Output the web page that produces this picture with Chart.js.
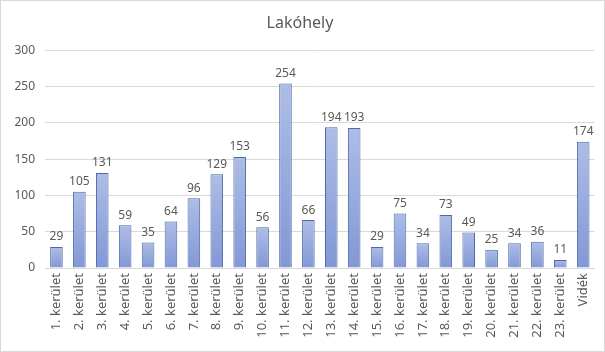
<!DOCTYPE html>
<html>
<head>
<meta charset="utf-8">
<script src="https://cdn.jsdelivr.net/npm/chart.js@4/dist/chart.umd.min.js"></script>
<style>
  html, body { margin: 0; padding: 0; background: #fff; }
  #wrap { position: relative; width: 603px; height: 350px; border: 1px solid #d9d9d9; }
</style>
</head>
<body>
<div id="wrap"><canvas id="c"></canvas></div>
<script>
  // ── 数据 ──
  const categories = ['1. kerület', '2. kerület', '3. kerület', '4. kerület', '5. kerület', '6. kerület',
    '7. kerület', '8. kerület', '9. kerület', '10. kerület', '11. kerület', '12. kerület', '13. kerület',
    '14. kerület', '15. kerület', '16. kerület', '17. kerület', '18. kerület', '19. kerület', '20. kerület',
    '21. kerület', '22. kerület', '23. kerület', 'Vidék'];
  const values = [29, 105, 131, 59, 35, 64, 96, 129, 153, 56, 254, 66, 194, 193, 29, 75, 34, 73, 49, 25, 34, 36, 11, 174];
  const yTicks = [0, 50, 100, 150, 200, 250, 300];

  const TEXT = '#595959';
  const FONT = '"Noto Sans", "Open Sans", sans-serif';

  // per-bar vertical gradient
  function barFill(ctx) {
    const chart = ctx.chart;
    const y = chart.scales.y;
    if (!chart.chartArea || !y || ctx.raw === undefined) return '#95a8de';
    const top = y.getPixelForValue(ctx.raw);
    const base = y.getPixelForValue(0);
    if (!isFinite(top) || base - top < 1) return '#95a8de';
    const g = chart.ctx.createLinearGradient(0, top, 0, base);
    g.addColorStop(0, '#aebde6');
    g.addColorStop(1, '#8298d6');
    return g;
  }

  const valueLabels = {
    id: 'valueLabels',
    afterDatasetsDraw(chart) {
      const c = chart.ctx;
      const meta = chart.getDatasetMeta(0);
      c.save();
      c.font = '12px ' + FONT;
      c.fillStyle = TEXT;
      c.textAlign = 'center';
      c.textBaseline = 'bottom';
      meta.data.forEach((bar, i) => {
        c.fillText(String(values[i]), bar.x, bar.y - 4);
      });
      c.restore();
    }
  };

  new Chart(document.getElementById('c'), {
    type: 'bar',
    data: {
      labels: categories,
      datasets: [{
        data: values,
        backgroundColor: barFill,
        borderColor: '#4a6aa8',
        borderWidth: 1,
        barPercentage: 0.55,
        categoryPercentage: 1.0
      }]
    },
    options: {
      responsive: true,
      maintainAspectRatio: false,
      animation: false,
      layout: { padding: { top: 4, right: 9, bottom: 0, left: 4 } },
      plugins: {
        legend: { display: false },
        tooltip: { enabled: false },
        title: {
          display: true,
          text: 'Lakóhely',
          color: TEXT,
          font: { family: FONT, size: 16, weight: 'normal' },
          padding: { top: 9, bottom: 17 }
        }
      },
      scales: {
        y: {
          min: 0, max: 300,
          afterBuildTicks(axis) { axis.ticks = yTicks.map(v => ({ value: v })); },
          afterFit(axis) { axis.width = 40; },
          grid: { color: '#d9d9d9', drawTicks: false },
          border: { display: false },
          ticks: { color: TEXT, font: { family: FONT, size: 12 }, padding: 10 }
        },
        x: {
          afterFit(axis) { axis.height = 83; },
          grid: { display: false, drawTicks: false },
          border: { color: '#d9d9d9' },
          ticks: {
            color: TEXT, font: { family: FONT, size: 13 },
            maxRotation: 90, minRotation: 90, autoSkip: false, padding: 5
          }
        }
      }
    },
    plugins: [valueLabels]
  });
</script>
</body>
</html>
